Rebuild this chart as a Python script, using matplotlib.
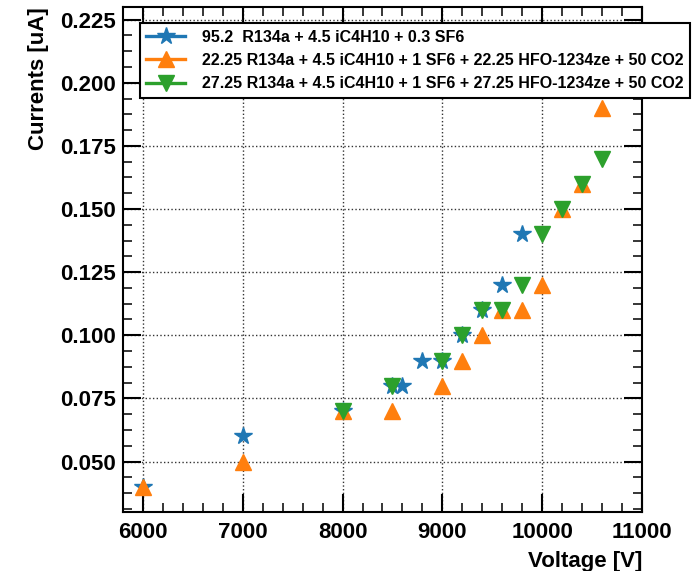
import matplotlib
matplotlib.use("Agg")
import matplotlib.pyplot as plt
from matplotlib.ticker import MultipleLocator, AutoMinorLocator, FormatStrFormatter
from matplotlib.lines import Line2D

plt.rcParams['font.family'] = ['Liberation Sans', 'DejaVu Sans']
plt.rcParams['font.weight'] = 'bold'

# Mixture 1: 95.2 R134a + 4.5 iC4H10 + 0.3 SF6
v_std = [6000, 7000, 8000, 8500, 8600, 8800, 9000, 9200, 9400, 9600, 9800]
i_std = [0.04, 0.06, 0.07, 0.08, 0.08, 0.09, 0.09, 0.10, 0.11, 0.12, 0.14]

# Mixture 2: 22.25 HFO blend
v_hfo22 = [6000, 7000, 8000, 8500, 9000, 9200, 9400, 9600, 9800, 10000, 10200, 10400, 10600]
i_hfo22 = [0.04, 0.05, 0.07, 0.07, 0.08, 0.09, 0.10, 0.11, 0.11, 0.12, 0.15, 0.16, 0.19]

# Mixture 3: 27.25 HFO blend
v_hfo27 = [8000, 8500, 9000, 9200, 9400, 9600, 9800, 10000, 10200, 10400, 10600, 10800]
i_hfo27 = [0.07, 0.08, 0.09, 0.10, 0.11, 0.11, 0.12, 0.14, 0.15, 0.16, 0.17, 0.22]

labels = [
    "95.2  R134a + 4.5 iC4H10 + 0.3 SF6",
    "22.25 R134a + 4.5 iC4H10 + 1 SF6 + 22.25 HFO-1234ze + 50 CO2",
    "27.25 R134a + 4.5 iC4H10 + 1 SF6 + 27.25 HFO-1234ze + 50 CO2",
]
colors = ["#1f77b4", "#ff7f0e", "#2ca02c"]
markers = ["*", "^", "v"]
sizes = [13, 12, 12]

fig = plt.figure(figsize=(7.0, 5.71), dpi=100)
ax = fig.add_axes([0.1757, 0.1033, 0.7414, 0.8844])

series = [(v_std, i_std), (v_hfo22, i_hfo22), (v_hfo27, i_hfo27)]
handles = []
for (xv, yv), lab, c, m, s in zip(series, labels, colors, markers, sizes):
    ax.plot(xv, yv, linestyle='none', marker=m, color=c, ms=s, zorder=3)
    handles.append(Line2D([], [], color=c, marker=m, ms=s, linewidth=2.4, label=lab))

ax.set_xlim(5800, 11000)
ax.set_ylim(0.03, 0.23)
ax.xaxis.set_major_locator(MultipleLocator(1000))
ax.xaxis.set_minor_locator(AutoMinorLocator(5))
ax.yaxis.set_major_locator(MultipleLocator(0.025))
ax.yaxis.set_minor_locator(AutoMinorLocator(4))
ax.yaxis.set_major_formatter(FormatStrFormatter('%.3f'))

ax.tick_params(which='both', direction='in', top=True, right=True)
ax.tick_params(which='major', length=13, width=1.5, labelsize=16)
ax.tick_params(which='minor', length=6.5, width=1.1)
ax.tick_params(axis='x', which='major', pad=7)
ax.tick_params(axis='y', which='major', pad=5)
for sp in ax.spines.values():
    sp.set_linewidth(1.5)

ax.grid(True, which='major', linestyle=':', color='#333333', linewidth=1.0, zorder=0)
ax.set_axisbelow(True)

ax.set_xlabel("Voltage [V]", fontsize=16, fontweight='bold', loc='right', labelpad=6)
ax.set_ylabel("Currents [uA]", fontsize=16, fontweight='bold', loc='top', labelpad=8)

leg = ax.legend(handles=handles, loc='upper left', bbox_to_anchor=(0.0328, 0.968),
                borderaxespad=0, fontsize=11.5, frameon=True, fancybox=False,
                framealpha=1, edgecolor='black', handlelength=2.4,
                handletextpad=1.05, labelspacing=0.52, borderpad=0.4)
leg.get_frame().set_linewidth(1.5)
leg.set_zorder(5)

fig.savefig("out.png", dpi=100)
